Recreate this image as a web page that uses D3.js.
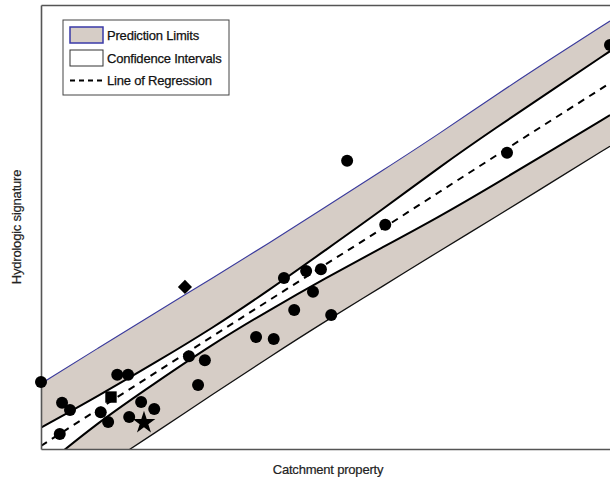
<!DOCTYPE html>
<html>
<head>
<meta charset="utf-8">
<script src="https://cdn.jsdelivr.net/npm/d3@7"></script>
<style>
  html, body { margin: 0; padding: 0; background: #fff; }
  svg { display: block; font-family: "Liberation Sans", Arial, Helvetica, sans-serif; }
</style>
</head>
<body>
<svg id="chart" width="610" height="483"></svg>
<script>
// ---- data (arbitrary units) ----
const bandX        = [0, 10, 20, 30, 40, 50, 60, 70, 80, 90, 100];
const regression   = [0.7, 8.9, 17.1, 25.3, 33.4, 41.6, 49.6, 57.9, 66.1, 74.3, 82.4];
const upperPred    = [14.7, 22.7, 30.6, 38.4, 46.3, 54.5, 62.7, 71.0, 79.8, 88.2, 96.4];
const lowerPred    = [-13.2, -4.8, 3.6, 12.2, 20.6, 28.8, 36.6, 44.6, 52.3, 60.3, 68.2];
const upperConf    = [4.8, 11.9, 19.4, 27.1, 35.7, 44.8, 53.9, 63.5, 72.4, 81.0, 89.6];
const lowerConf    = [-4.5, 6.0, 14.8, 23.5, 31.2, 38.5, 45.4, 52.3, 59.8, 67.5, 75.2];

const circleX = [0, 3.7, 5.1, 3.3, 10.5, 11.8, 13.4, 15.3, 15.5, 17.6, 19.9, 27.6, 26.0, 28.8, 37.8, 40.9, 42.7, 46.6, 49.2, 47.8, 44.5, 51.0, 53.8, 60.5, 81.9, 100];
const circleY = [15.1, 10.4, 8.8, 3.4, 8.3, 6.1, 16.7, 16.7, 7.2, 10.6, 9.0, 14.4, 20.9, 20.0, 25.2, 24.8, 38.5, 40.1, 40.5, 35.4, 31.3, 30.2, 64.9, 50.5, 66.7, 91.0];
const squareX = [12.3], squareY = [11.7];
const diamondX = [25.3], diamondY = [36.5];
const starX = [18.1], starY = [5.9];

const legendLabels = ["Prediction Limits", "Confidence Intervals", "Line of Regression"];
const xTitle = "Catchment property";
const yTitle = "Hydrologic signature";

// ---- layout ----
const svg = d3.select("#chart");
const L = 41, R = 610, T = 5, B = 449;
const x = d3.scaleLinear().domain([0, 100]).range([L, R]);
const y = d3.scaleLinear().domain([0, 100]).range([B, T]);

svg.append("defs").append("clipPath").attr("id", "plotclip")
  .append("rect").attr("x", L).attr("y", T).attr("width", R - L + 10).attr("height", B - T);

const plot = svg.append("g").attr("clip-path", "url(#plotclip)");
const gray = "rgb(214,205,198)";

const band = bandX.map((v, i) => ({x: v, reg: regression[i], up: upperPred[i], lp: lowerPred[i], uc: upperConf[i], lc: lowerConf[i]}));
const curve = d3.curveBasis;

plot.append("path").datum(band)
  .attr("d", d3.area().curve(curve).x(d => x(d.x)).y0(d => y(d.lp)).y1(d => y(d.up)))
  .attr("fill", gray);
plot.append("path").datum(band)
  .attr("d", d3.area().curve(curve).x(d => x(d.x)).y0(d => y(d.lc)).y1(d => y(d.uc)))
  .attr("fill", "#fff");

const line = key => d3.line().curve(curve).x(d => x(d.x)).y(d => y(d[key]));
plot.append("path").datum(band).attr("d", line("up")).attr("fill", "none").attr("stroke", "#3a3a9c").attr("stroke-width", 1.1);
plot.append("path").datum(band).attr("d", line("lp")).attr("fill", "none").attr("stroke", "#111").attr("stroke-width", 1.3);
plot.append("path").datum(band).attr("d", line("uc")).attr("fill", "none").attr("stroke", "#000").attr("stroke-width", 2);
plot.append("path").datum(band).attr("d", line("lc")).attr("fill", "none").attr("stroke", "#000").attr("stroke-width", 2);
plot.append("path").datum(band).attr("d", line("reg")).attr("fill", "none").attr("stroke", "#000").attr("stroke-width", 2).attr("stroke-dasharray", "7,6");

// ---- frame / axes ----
const axisStyle = g => { g.select(".domain").attr("stroke", "#555").attr("stroke-width", 1.6); g.selectAll(".tick").remove(); };
svg.append("g").attr("transform", `translate(0,${B})`).call(d3.axisBottom(x).tickValues([]).tickSizeOuter(0)).call(axisStyle);
svg.append("g").attr("transform", `translate(${L},0)`).call(d3.axisLeft(y).tickValues([]).tickSizeOuter(0)).call(axisStyle);
svg.append("g").attr("transform", `translate(0,${T})`).call(d3.axisTop(x).tickValues([]).tickSizeOuter(0)).call(axisStyle);

// ---- points ----
const pts = svg.append("g");
pts.selectAll("circle").data(circleX.map((v, i) => [v, circleY[i]])).join("circle")
  .attr("cx", d => x(d[0])).attr("cy", d => y(d[1])).attr("r", 6).attr("fill", "#000");
pts.selectAll("path.sq").data(squareX.map((v, i) => [v, squareY[i]])).join("path").attr("class", "sq")
  .attr("transform", d => `translate(${x(d[0])},${y(d[1])})`)
  .attr("d", d3.symbol(d3.symbolSquare, 130)()).attr("fill", "#000");
pts.selectAll("path.dm").data(diamondX.map((v, i) => [v, diamondY[i]])).join("path").attr("class", "dm")
  .attr("transform", d => `translate(${x(d[0])},${y(d[1])}) rotate(45)`)
  .attr("d", d3.symbol(d3.symbolSquare, 100)()).attr("fill", "#000");
pts.selectAll("path.st").data(starX.map((v, i) => [v, starY[i]])).join("path").attr("class", "st")
  .attr("transform", d => `translate(${x(d[0])},${y(d[1])})`)
  .attr("d", d3.symbol(d3.symbolStar, 160)()).attr("fill", "#000");

// ---- legend ----
const lg = svg.append("g");
lg.append("rect").attr("x", 63).attr("y", 20).attr("width", 166).attr("height", 75)
  .attr("fill", "#fff").attr("stroke", "#444").attr("stroke-width", 1);
lg.append("rect").attr("x", 70).attr("y", 27).attr("width", 33).attr("height", 16)
  .attr("fill", gray).attr("stroke", "#3a3aa8").attr("stroke-width", 1.5);
lg.append("rect").attr("x", 70).attr("y", 50).attr("width", 33).attr("height", 16)
  .attr("fill", "#fff").attr("stroke", "#333").attr("stroke-width", 1);
lg.append("line").attr("x1", 70).attr("x2", 103).attr("y1", 80.5).attr("y2", 80.5)
  .attr("stroke", "#000").attr("stroke-width", 2).attr("stroke-dasharray", "5,4");
lg.selectAll("text").data(legendLabels).join("text")
  .attr("x", 107).attr("y", (d, i) => 40 + i * 22.5)
  .attr("font-size", 13).attr("letter-spacing", -0.2).attr("fill", "#111")
  .attr("stroke", "#111").attr("stroke-width", 0.25).text(d => d);

// ---- titles ----
svg.append("text").attr("x", 328).attr("y", 474).attr("text-anchor", "middle")
  .attr("font-size", 13).attr("letter-spacing", -0.2).attr("fill", "#222")
  .attr("stroke", "#222").attr("stroke-width", 0.2).text(xTitle);
svg.append("text").attr("transform", "translate(21,227) rotate(-90)").attr("text-anchor", "middle")
  .attr("font-size", 13).attr("letter-spacing", -0.2).attr("fill", "#222")
  .attr("stroke", "#222").attr("stroke-width", 0.2).text(yTitle);
</script>
</body>
</html>
